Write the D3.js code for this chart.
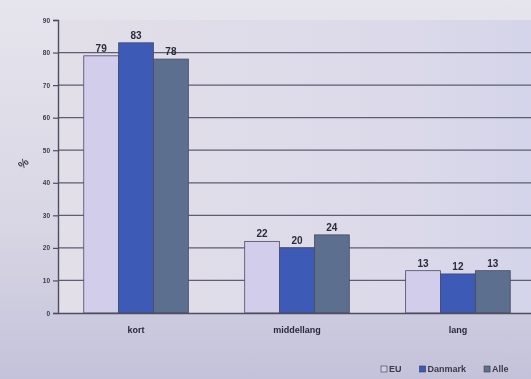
<!DOCTYPE html>
<html>
<head>
<meta charset="utf-8">
<script src="https://cdn.jsdelivr.net/npm/d3@7"></script>
<style>
  html, body { margin: 0; padding: 0; background: #d4d3e2; overflow: hidden; }
  svg { display: block; filter: blur(0.6px); }
</style>
</head>
<body>
<svg id="chart" width="531" height="379"></svg>
<script>
// Horizon groups and the share (%) for each series
const categories = ["kort", "middellang", "lang"];
const seriesNames = ["EU", "Danmark", "Alle"];
const euValues = [79, 22, 13];
const danmarkValues = [83, 20, 12];
const alleValues = [78, 24, 13];
const yTicks = [0, 10, 20, 30, 40, 50, 60, 70, 80, 90];

const seriesValues = [euValues, danmarkValues, alleValues];
const colors = ["#d2cdea", "#3d5bb6", "#5d6f8e"];

const svg = d3.select("#chart");
const W = 531, H = 379;
const margin = { top: 20, left: 58, bottom: 66 };
const plotRight = 536;

// background shading
const defs = svg.append("defs");
const bg = defs.append("linearGradient").attr("id", "bg").attr("x1", 0).attr("y1", 0).attr("x2", 0).attr("y2", 1);
bg.append("stop").attr("offset", "0%").attr("stop-color", "#e6e4ec");
bg.append("stop").attr("offset", "60%").attr("stop-color", "#d8d6e4");
bg.append("stop").attr("offset", "100%").attr("stop-color", "#c3c2da");
svg.append("rect").attr("width", W).attr("height", H).attr("fill", "url(#bg)");

const plotBg = defs.append("linearGradient").attr("id", "plotbg").attr("x1", 0).attr("y1", 0).attr("x2", 1).attr("y2", 0);
plotBg.append("stop").attr("offset", "0%").attr("stop-color", "#e2dfe8");
plotBg.append("stop").attr("offset", "70%").attr("stop-color", "#dcdaea");
plotBg.append("stop").attr("offset", "100%").attr("stop-color", "#d4d4ea");

const y = d3.scaleLinear().domain([0, 90]).range([H - margin.bottom, margin.top]);
const x0 = d3.scaleBand().domain(categories).range([margin.left, plotRight]).paddingInner(0.35).paddingOuter(0.16);
const x1 = d3.scaleBand().domain(seriesNames).range([0, x0.bandwidth()]).padding(0);

svg.append("rect")
  .attr("x", margin.left).attr("y", y(90))
  .attr("width", plotRight - margin.left).attr("height", y(0) - y(90))
  .attr("fill", "url(#plotbg)");

// horizontal grid
svg.append("g")
  .selectAll("line")
  .data(yTicks.filter(d => d > 0 && d < 90))
  .join("line")
  .attr("x1", margin.left).attr("x2", plotRight)
  .attr("y1", d => y(d)).attr("y2", d => y(d))
  .attr("stroke", "#5e5e72").attr("stroke-width", 1.3);

// bars
const groups = svg.append("g")
  .selectAll("g")
  .data(categories)
  .join("g")
  .attr("transform", d => `translate(${x0(d)},0)`);

groups.selectAll("rect")
  .data((c, i) => seriesNames.map((s, j) => ({ s, j, v: seriesValues[j][i] })))
  .join("rect")
  .attr("x", d => x1(d.s))
  .attr("y", d => y(d.v))
  .attr("width", x1.bandwidth())
  .attr("height", d => y(0) - y(d.v))
  .attr("fill", d => colors[d.j])
  .attr("stroke", "#4a4a66")
  .attr("stroke-width", 0.8);

groups.selectAll("text")
  .data((c, i) => seriesNames.map((s, j) => ({ s, j, v: seriesValues[j][i] })))
  .join("text")
  .attr("x", d => x1(d.s) + x1.bandwidth() / 2)
  .attr("y", d => y(d.v) - 4)
  .attr("text-anchor", "middle")
  .attr("font-family", "Liberation Sans, Arial, sans-serif")
  .attr("font-size", 10)
  .attr("font-weight", "bold")
  .attr("fill", "#2a2a3a")
  .text(d => d.v);

// y axis
const yAxis = d3.axisLeft(y).tickValues(yTicks).tickSize(5).tickFormat(d3.format("d"));
const yg = svg.append("g").attr("transform", `translate(${margin.left},0)`).call(yAxis);
yg.select(".domain").attr("stroke", "#4e4e62").attr("stroke-width", 1.4);
yg.selectAll(".tick line").attr("stroke", "#4e4e62").attr("stroke-width", 1.2);
yg.selectAll(".tick text")
  .attr("font-family", "Liberation Sans, Arial, sans-serif")
  .attr("font-size", 6.5).attr("font-weight", "bold").attr("fill", "#3a3a4a")
  .attr("x", -8);

// x axis
const xAxis = d3.axisBottom(x0).tickSize(0).tickPadding(14);
const xg = svg.append("g").attr("transform", `translate(0,${y(0)})`).call(xAxis);
xg.select(".domain").attr("stroke", "#4e4e62").attr("stroke-width", 1.4);
xg.selectAll(".tick text")
  .attr("font-family", "Liberation Sans, Arial, sans-serif")
  .attr("font-size", 9).attr("font-weight", "bold").attr("fill", "#2a2a3a");

// y-axis unit
svg.append("text")
  .attr("transform", "translate(26,166) rotate(-45)")
  .attr("text-anchor", "middle")
  .attr("font-family", "Liberation Sans, Arial, sans-serif")
  .attr("font-size", 11).attr("font-weight", "bold").attr("fill", "#3a3a48")
  .text("%");

// legend (runs past the right edge)
const legend = svg.append("g").attr("transform", "translate(381,372)");
let lx = 0;
seriesNames.forEach((s, j) => {
  const g = legend.append("g").attr("transform", `translate(${lx},0)`);
  g.append("rect").attr("x", 0).attr("y", -6).attr("width", 6).attr("height", 6)
    .attr("fill", colors[j]).attr("stroke", "#3a3a4a").attr("stroke-width", 0.6);
  const t = g.append("text").attr("x", 8).attr("y", 0)
    .attr("font-family", "Liberation Sans, Arial, sans-serif")
    .attr("font-size", 9).attr("font-weight", "bold").attr("fill", "#3a3a4a")
    .text(s);
  lx += 8 + t.node().getComputedTextLength() + 18;
});
</script>
</body>
</html>
